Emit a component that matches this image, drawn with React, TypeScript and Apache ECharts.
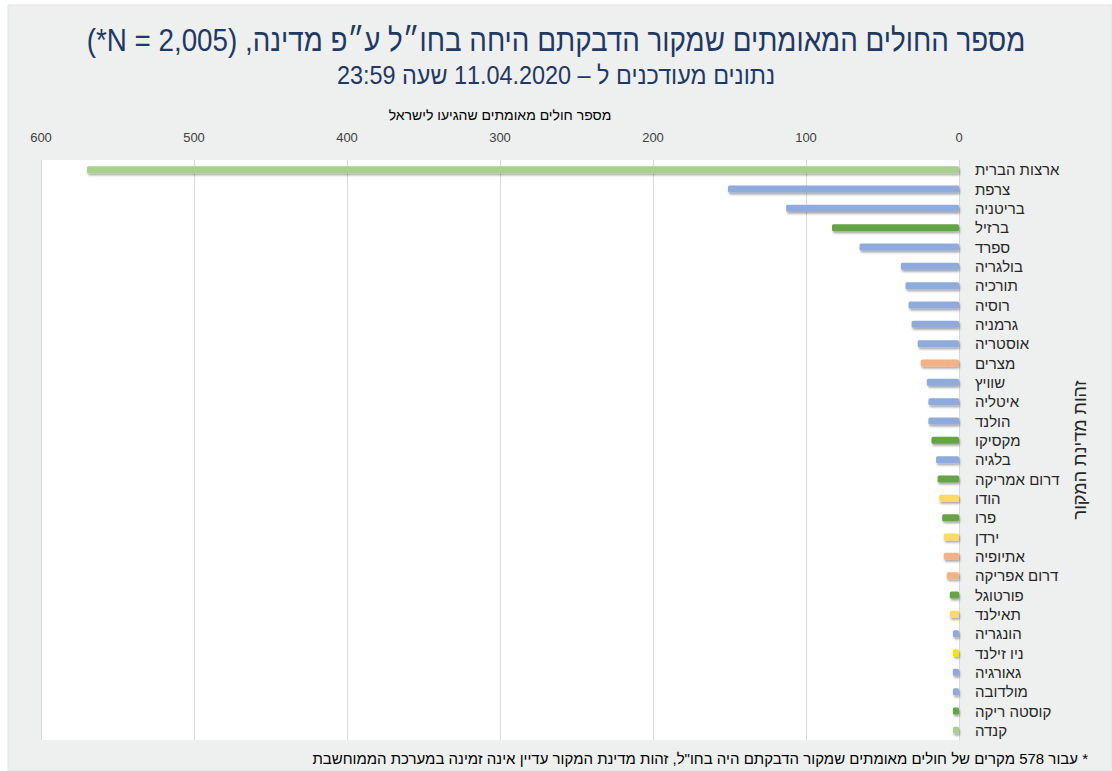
import React, { useEffect, useRef } from "react";
import * as echarts from "echarts";

const categories = [
  "ארצות הברית", "צרפת", "בריטניה", "ברזיל", "ספרד", "בולגריה", "תורכיה", "רוסיה",
  "גרמניה", "אוסטריה", "מצרים", "שוויץ", "איטליה", "הולנד", "מקסיקו", "בלגיה",
  "דרום אמריקה", "הודו", "פרו", "ירדן", "אתיופיה", "דרום אפריקה", "פורטוגל", "תאילנד",
  "הונגריה", "ניו זילנד", "גאורגיה", "מולדובה", "קוסטה ריקה", "קנדה",
];

const values = [
  570, 151, 113, 83, 65, 38, 35, 33,
  31, 27, 25, 21, 20, 20, 18, 15,
  14, 13, 11, 10, 10, 8, 6, 6,
  4, 4, 4, 4, 4, 4,
];

// colour group of each bar as seen in the picture
const groups = [
  "lightGreen", "blue", "blue", "green", "blue", "blue", "blue", "blue",
  "blue", "blue", "orange", "blue", "blue", "blue", "green", "blue",
  "green", "yellow", "green", "yellow", "orange", "orange", "green", "yellow",
  "blue", "brightYellow", "blue", "blue", "green", "lightGreen",
];

const groupColors: Record<string, string> = {
  lightGreen: "#A9D18E",
  blue: "#8FAADC",
  green: "#64A445",
  orange: "#F4B183",
  yellow: "#FFD966",
  brightYellow: "#F2E600",
};

const xTicks = { min: 0, max: 600, interval: 100 };

const titleText = "מספר החולים המאומתים שמקור הדבקתם היחה בחו״ל ע״פ מדינה, (N = 2,005*)";
const subtitleText = "נתונים מעודכנים ל – 11.04.2020 שעה 23:59";
const xAxisName = "מספר חולים מאומתים שהגיעו לישראל";
const yAxisName = "זהות מדינת המקור";
const footnote = "* עבור 578 מקרים של חולים מאומתים שמקור הדבקתם היה בחו\"ל, זהות מדינת המקור עדיין אינה זמינה במערכת הממוחשבת";

const rtl = (s: string) => "\u202B" + s + "\u202C";

const NAVY = "#1F3864";
const FONT = "'Liberation Sans', Arial, sans-serif";

export default function App() {
  const ref = useRef<HTMLDivElement>(null);
  useEffect(() => {
    if (!ref.current) return;
    const chart = echarts.init(ref.current, undefined, { renderer: "svg" });
    chart.setOption({
      animation: false,
      backgroundColor: "#ffffff",
      graphic: [
        {
          type: "rect",
          z: -10,
          silent: true,
          shape: { x: 8, y: 5, width: 1104, height: 766 },
          style: { fill: "#EEF0EF", stroke: "#E2E4E3", lineWidth: 1 },
        },
        {
          type: "text",
          x: 556,
          y: 40,
          scaleX: 0.868,
          style: {
            text: rtl(titleText),
            align: "center",
            verticalAlign: "middle",
            fill: NAVY,
            font: `32px ${FONT}`,
          },
        },
        {
          type: "text",
          x: 556,
          y: 75,
          scaleX: 0.936,
          style: {
            text: rtl(subtitleText),
            align: "center",
            verticalAlign: "middle",
            fill: NAVY,
            font: `25px ${FONT}`,
          },
        },
        {
          type: "text",
          x: 1088,
          y: 758,
          style: {
            text: rtl(footnote),
            align: "right",
            verticalAlign: "middle",
            fill: "#000000",
            font: `15px ${FONT}`,
          },
        },
      ],
      grid: {
        left: 41,
        right: 153,
        top: 160,
        bottom: 31,
        show: true,
        backgroundColor: "#ffffff",
        borderWidth: 0,
        containLabel: false,
      },
      xAxis: {
        type: "value",
        inverse: true,
        position: "top",
        min: xTicks.min,
        max: xTicks.max,
        interval: xTicks.interval,
        name: rtl(xAxisName),
        nameLocation: "middle",
        nameGap: 38,
        nameTextStyle: { color: "#000000", fontSize: 14, fontFamily: FONT },
        axisLine: { show: false },
        axisTick: { show: false },
        axisLabel: { color: "#404040", fontSize: 13, margin: 16, fontFamily: FONT },
        splitLine: { show: true, lineStyle: { color: "#D9D9D9", width: 1 } },
      },
      yAxis: {
        type: "category",
        data: categories,
        inverse: true,
        position: "right",
        name: rtl(yAxisName),
        nameLocation: "middle",
        nameRotate: 90,
        nameGap: 112,
        nameTextStyle: { color: "#262626", fontSize: 18, fontFamily: FONT },
        axisLine: { show: true, lineStyle: { color: "#D9D9D9" } },
        axisTick: { show: false },
        axisLabel: {
          color: "#262626",
          fontSize: 15,
          margin: 16,
          fontFamily: FONT,
          align: "left",
          interval: 0,
        },
        splitLine: { show: false },
      },
      series: [
        {
          type: "bar",
          barWidth: 7,
          data: values.map((v, i) => ({
            value: v,
            itemStyle: { color: groupColors[groups[i]] },
          })),
          itemStyle: {
            borderRadius: 1.5,
            shadowColor: "rgba(0,0,0,0.35)",
            shadowBlur: 2,
            shadowOffsetX: 1,
            shadowOffsetY: 2,
          },
        },
      ],
    });
    return () => chart.dispose();
  }, []);
  return (
    <div
      ref={ref}
      style={{ position: "absolute", left: 0, top: 0, width: 1112, height: 771 }}
    />
  );
}
